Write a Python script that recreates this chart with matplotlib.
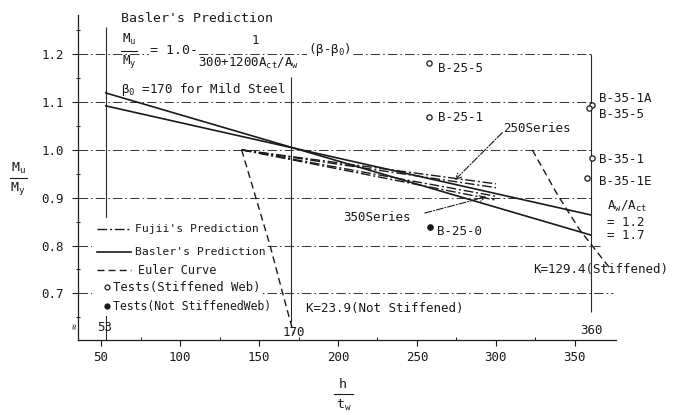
import matplotlib
matplotlib.use('Agg')
import matplotlib.pyplot as plt
from matplotlib.lines import Line2D
from matplotlib.patches import Rectangle
from matplotlib.ticker import FixedLocator, FormatStrFormatter

plt.rcParams['font.family'] = ['DejaVu Sans Mono', 'DejaVu Sans']
plt.rcParams['mathtext.default'] = 'regular'

# ---------------- data ----------------
basler_beta = [53, 360]
basler_17 = [1.119, 0.822]   # Aw/Act = 1.7
basler_12 = [1.092, 0.864]   # Aw/Act = 1.2

fujii_beta = [139, 300]
fujii_250a = [1.0, 0.929]
fujii_250b = [1.0, 0.921]
fujii_350a = [1.0, 0.903]
fujii_350b = [1.0, 0.895]

euler_ns_beta = [139, 148, 157, 165, 172]
euler_ns = [1.0, 0.90, 0.80, 0.70, 0.615]
euler_s_beta = [323, 339, 353, 372]
euler_s = [1.0, 0.906, 0.833, 0.753]

stiff_names = ['B-25-5', 'B-25-1', 'B-35-1A', 'B-35-5', 'B-35-1', 'B-35-1E']
stiff_beta = [257.6, 257.6, 360.8, 358.9, 360.8, 357.6]
stiff_mu = [1.182, 1.069, 1.094, 1.088, 0.983, 0.941]

nostiff_names = ['B-25-0']
nostiff_beta = [258.2]
nostiff_mu = [0.839]

ref_beta = [53, 170, 360]
ref_labels = ['53', '170', '360']
ref_top = [1.257, 1.153, 1.2]
ref_bottom = [0.6025, 0.64, 0.66]

grid_levels = [0.7, 0.8, 0.9, 1.0, 1.1, 1.2]
grid_end = [374, 366, 360, 360, 360, 360]

x_major = [50, 100, 150, 200, 250, 300, 350]
x_minor = [75, 125, 175, 225, 275, 325]
y_major = [0.7, 0.8, 0.9, 1.0, 1.1, 1.2]
y_minor = [0.65, 0.75, 0.85, 0.95, 1.05, 1.15, 1.25]

# ---------------- figure ----------------
W, H = 674, 415
fig = plt.figure(figsize=(W / 100, H / 100), dpi=100)
ax = fig.add_axes([78 / W, (H - 340) / H, (616 - 78) / W, (340 - 15) / H])
ax.set_xlim(35.4, 376)
ax.set_ylim(0.6025, 1.282)

INK = '#1a1a1a'

def P(x, y):
    return (x / W, 1 - y / H)

def ftext(x, y, s, size=9, ha='left', va='center', **kw):
    fig.text(*P(x, y), s, fontsize=size, ha=ha, va=va, color=INK, **kw)

def fline(x0, x1, y0, y1, **kw):
    a = P(x0, y0); b = P(x1, y1)
    fig.add_artist(Line2D([a[0], b[0]], [a[1], b[1]], transform=fig.transFigure, **kw))

for s in ['top', 'right']:
    ax.spines[s].set_visible(False)
for s in ['left', 'bottom']:
    ax.spines[s].set_linewidth(0.9)
    ax.spines[s].set_color(INK)

ax.xaxis.set_major_locator(FixedLocator(x_major))
ax.xaxis.set_minor_locator(FixedLocator(x_minor))
ax.yaxis.set_major_locator(FixedLocator(y_major))
ax.yaxis.set_minor_locator(FixedLocator(y_minor))
ax.yaxis.set_major_formatter(FormatStrFormatter('%.1f'))
ax.tick_params(axis='x', which='major', direction='out', length=4, width=0.8,
               pad=4, labelsize=9, colors=INK)
ax.tick_params(axis='x', which='minor', direction='in', length=2.5, width=0.7, colors=INK)
ax.tick_params(axis='y', which='major', direction='out', length=4, width=0.8,
               pad=6, labelsize=9, colors=INK)
ax.tick_params(axis='y', which='minor', direction='inout', length=3, width=0.7, colors=INK)

# grid lines (dash-dot)
for lvl, xe in zip(grid_levels, grid_end):
    ax.hlines(lvl, 35.4, xe, colors='#3a3a3a', linewidth=0.75,
              linestyles=[(0, (9, 3, 1.5, 3))], zorder=1)

# reference verticals
ax.vlines(ref_beta, ref_bottom, ref_top, colors='#2a2a2a', linewidth=0.8, zorder=1)

# Basler's prediction
ax.plot(basler_beta, basler_17, color=INK, lw=1.2, zorder=3)
ax.plot(basler_beta, basler_12, color=INK, lw=1.2, zorder=3)

# Fujii's prediction
fdash = (0, (7, 2, 1.5, 2))
for vals in (fujii_250a, fujii_250b, fujii_350a, fujii_350b):
    ax.plot(fujii_beta, vals, color=INK, lw=1.0, linestyle=fdash, zorder=3)

# Euler curves
edash = (0, (5, 3))
ax.plot(euler_ns_beta, euler_ns, color=INK, lw=1.0, linestyle=edash, zorder=3)
ax.plot(euler_s_beta, euler_s, color=INK, lw=1.0, linestyle=edash, zorder=3)

# tests
ax.plot(stiff_beta, stiff_mu, linestyle='none', marker='o', ms=3.8,
        mfc='white', mec=INK, mew=0.9, zorder=4)
ax.plot(nostiff_beta, nostiff_mu, linestyle='none', marker='o', ms=3.8,
        mfc=INK, mec=INK, zorder=4)

# series arrows
ax.annotate('', xy=(274, 0.937), xytext=(304, 1.036),
            arrowprops=dict(arrowstyle='->', color=INK, lw=0.8, linestyle='-.',
                            shrinkA=0, shrinkB=0), zorder=5)
ax.annotate('', xy=(294, 0.902), xytext=(255, 0.868),
            arrowprops=dict(arrowstyle='->', color=INK, lw=0.8, linestyle='-.',
                            shrinkA=0, shrinkB=0), zorder=5)

# ---------------- texts ----------------
lab_px = {'B-25-5': (438, 68), 'B-25-1': (438, 117), 'B-35-1A': (599, 98),
          'B-35-5': (599, 115), 'B-35-1': (599, 159), 'B-35-1E': (599, 181),
          'B-25-0': (437, 231)}
for name in stiff_names + nostiff_names:
    x, y = lab_px[name]
    ftext(x, y, name, size=9)

ftext(503, 128, '250Series', size=9)
ftext(343, 217, '350Series', size=9)
ftext(607, 206, r'A$_w$/A$_{ct}$', size=9)
ftext(607, 222, '= 1.2', size=9)
ftext(607, 235, '= 1.7', size=9)
ftext(533, 269, 'K=129.4(Stiffened)', size=9)
ftext(306, 308, 'K=23.9(Not Stiffened)', size=9)

for b, lab, xp, yp in zip(ref_beta, ref_labels, [105, 294, 591], [327, 332, 330]):
    ftext(xp, yp, lab, size=9, ha='center')

ftext(75, 326, '≈', size=7, ha='center', rotation=90)

# formula block
ftext(121, 18, "Basler's Prediction", size=9.5)
ftext(129, 39, r'M$_u$', size=9, ha='center')
fline(121, 137, 51, 51, color=INK, lw=0.8)
ftext(129, 62, r'M$_y$', size=9, ha='center')
ftext(150, 51, '= 1.0-', size=9.5, bbox=dict(fc='white', ec='none', pad=0.5))
ftext(255, 40, '1', size=9, ha='center')
ftext(198, 63, r'300+1200A$_{ct}$/A$_w$', size=9)
ftext(308, 50, r'($\beta$-$\beta_0$)', size=9, bbox=dict(fc='white', ec='none', pad=0.5))
ftext(121, 90, r'$\beta_0$ =170 for Mild Steel', size=9)

# axis labels (fractions)
ftext(18, 168, r'M$_u$', size=9.5, ha='center')
fline(10, 27, 178, 178, color=INK, lw=0.8)
ftext(18, 188, r'M$_y$', size=9.5, ha='center')

ftext(343, 384, 'h', size=9.5, ha='center')
fline(334, 353, 394, 394, color=INK, lw=0.8)
ftext(344, 405, r't$_w$', size=9.5, ha='center')

# ---------------- legend (manual) ----------------
a = P(92, 218); b = P(134, 316)
fig.add_artist(Rectangle((a[0], b[1]), b[0] - a[0], a[1] - b[1],
                         transform=fig.transFigure, fc='white', ec='none', zorder=2))
lkw = dict(color=INK, lw=1.0, zorder=3)
fline(97, 131, 229, 229, linestyle=fdash, **lkw)
fline(97, 131, 252, 252, lw=1.2, color=INK, zorder=3)
fline(97, 131, 270, 270, linestyle=edash, **lkw)
fig.add_artist(Line2D([P(107, 287)[0]], [P(107, 287)[1]], transform=fig.transFigure,
                      marker='o', ms=3.5, mfc='white', mec=INK, mew=0.9, ls='none', zorder=3))
fig.add_artist(Line2D([P(107, 306)[0]], [P(107, 306)[1]], transform=fig.transFigure,
                      marker='o', ms=3.5, mfc=INK, mec=INK, ls='none', zorder=3))
for yy, s, xx, fs in [(229, "Fujii's Prediction", 135, 8.2), (252, "Basler's Prediction", 135, 8.2),
                      (270, "Euler Curve", 138, 8.5), (287, "Tests(Stiffened Web)", 113, 8.8),
                      (306, "Tests(Not StiffenedWeb)", 113, 8.3)]:
    fig.text(*P(xx, yy), s, fontsize=fs, ha='left', va='center', color=INK, zorder=4,
             bbox=dict(fc='white', ec='none', pad=1.0))

fig.savefig('out.png', dpi=100)
